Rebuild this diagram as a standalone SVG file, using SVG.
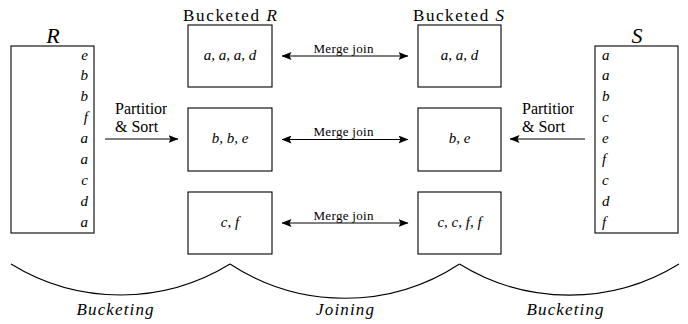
<svg xmlns="http://www.w3.org/2000/svg" width="688" height="324" viewBox="0 0 688 324">
  <style>
    text { font-family: "Liberation Serif", "Tinos", "Noto Serif", "DejaVu Serif", "FreeSerif", "Nimbus Roman", "Times New Roman", Times, serif; fill: #000; }
    .box { fill: #fff; stroke: #000; stroke-width: 1.1; }
    .it { font-style: italic; }
    .item { font-style: italic; font-size: 15px; }
    .cell { font-style: italic; font-size: 15px; text-anchor: middle; }
    .title { font-size: 17px; }
    .small { font-size: 13px; text-anchor: middle; }
    .label { font-size: 16px; }
    .wire { stroke: #000; stroke-width: 1.2; fill: none; }
    .brace { stroke: #000; stroke-width: 1.1; fill: none; }
    .phase { font-style: italic; font-size: 17px; text-anchor: middle; }
  </style>
  <defs>
    <marker id="head" viewBox="0 0 10 8" refX="9.5" refY="4" markerWidth="10" markerHeight="8" markerUnits="userSpaceOnUse" orient="auto-start-reverse">
      <path d="M0,0 L10,4 L0,8 L2,4 Z" fill="#000"/>
    </marker>
    <clipPath id="clipLeft"><rect x="100" y="95" width="67" height="45"/></clipPath>
    <clipPath id="clipRight"><rect x="515" y="95" width="59" height="45"/></clipPath>
  </defs>

  <!-- input relation R -->
  <g id="relR">
    <text x="53" y="43" font-size="22" class="it" text-anchor="middle">R</text>
    <rect class="box" x="11" y="46" width="83" height="187"/>
    <g class="item" text-anchor="end">
      <text x="88" y="59.5">e</text>
      <text x="88" y="80.4">b</text>
      <text x="88" y="101.3">b</text>
      <text x="88" y="122.2">f</text>
      <text x="88" y="143.1">a</text>
      <text x="88" y="164">a</text>
      <text x="88" y="184.9">c</text>
      <text x="88" y="205.8">d</text>
      <text x="88" y="226.7">a</text>
    </g>
  </g>

  <!-- input relation S -->
  <g id="relS">
    <text x="637" y="43" font-size="22" class="it" text-anchor="middle">S</text>
    <rect class="box" x="595" y="46" width="83" height="187"/>
    <g class="item">
      <text x="602" y="59.5">a</text>
      <text x="602" y="80.4">a</text>
      <text x="602" y="101.3">b</text>
      <text x="602" y="122.2">c</text>
      <text x="602" y="143.1">e</text>
      <text x="602" y="164">f</text>
      <text x="602" y="184.9">c</text>
      <text x="602" y="205.8">d</text>
      <text x="602" y="226.7">f</text>
    </g>
  </g>

  <!-- column headings -->
  <g id="headR">
    <text class="title" x="183" y="20.5" textLength="94">Bucketed <tspan class="it">R</tspan></text>
  </g>
  <g id="headS">
    <text class="title" x="413" y="20.5" textLength="91">Bucketed <tspan class="it">S</tspan></text>
  </g>

  <!-- buckets of R -->
  <g id="bucketR1">
    <rect class="box" x="188" y="25" width="84" height="62"/>
    <text class="cell" x="230" y="60">a, a, a, d</text>
  </g>
  <g id="bucketR2">
    <rect class="box" x="188" y="108" width="84" height="63"/>
    <text class="cell" x="230" y="143">b, b, e</text>
  </g>
  <g id="bucketR3">
    <rect class="box" x="188" y="192" width="84" height="62"/>
    <text class="cell" x="230" y="227">c, f</text>
  </g>

  <!-- buckets of S -->
  <g id="bucketS1">
    <rect class="box" x="418" y="25" width="83" height="62"/>
    <text class="cell" x="459.5" y="60">a, a, d</text>
  </g>
  <g id="bucketS2">
    <rect class="box" x="418" y="108" width="83" height="63"/>
    <text class="cell" x="459.5" y="143">b, e</text>
  </g>
  <g id="bucketS3">
    <rect class="box" x="418" y="192" width="83" height="62"/>
    <text class="cell" x="459.5" y="227">c, c, f, f</text>
  </g>

  <!-- connectors -->
  <g id="connectors">
    <line class="wire" x1="105" y1="139" x2="178" y2="139" marker-end="url(#head)"/>
    <g clip-path="url(#clipLeft)">
      <text class="label" x="115" y="114">Partition</text>
    </g>
    <text class="label" x="115" y="132">&amp; Sort</text>

    <line class="wire" x1="585" y1="139" x2="510" y2="139" marker-end="url(#head)"/>
    <g clip-path="url(#clipRight)">
      <text class="label" x="522" y="114">Partition</text>
    </g>
    <text class="label" x="522" y="132">&amp; Sort</text>

    <line class="wire" x1="282" y1="56" x2="408" y2="56" marker-start="url(#head)" marker-end="url(#head)"/>
    <text class="small" x="343.5" y="52.5" textLength="60">Merge join</text>
    <line class="wire" x1="282" y1="139.5" x2="408" y2="139.5" marker-start="url(#head)" marker-end="url(#head)"/>
    <text class="small" x="343.5" y="136" textLength="60">Merge join</text>
    <line class="wire" x1="282" y1="223" x2="408" y2="223" marker-start="url(#head)" marker-end="url(#head)"/>
    <text class="small" x="343.5" y="219.5" textLength="60">Merge join</text>
  </g>

  <!-- phase braces -->
  <g id="phases">
    <path class="brace" d="M11,264 A209,209 0 0 0 230,264"/>
    <path class="brace" d="M230,264 A209,209 0 0 0 459.5,264"/>
    <path class="brace" d="M459.5,264 A209,209 0 0 0 679,264"/>
    <text class="phase" x="115" y="315" textLength="77">Bucketing</text>
    <text class="phase" x="345" y="315" textLength="58">Joining</text>
    <text class="phase" x="565" y="315" textLength="77">Bucketing</text>
  </g>
</svg>
